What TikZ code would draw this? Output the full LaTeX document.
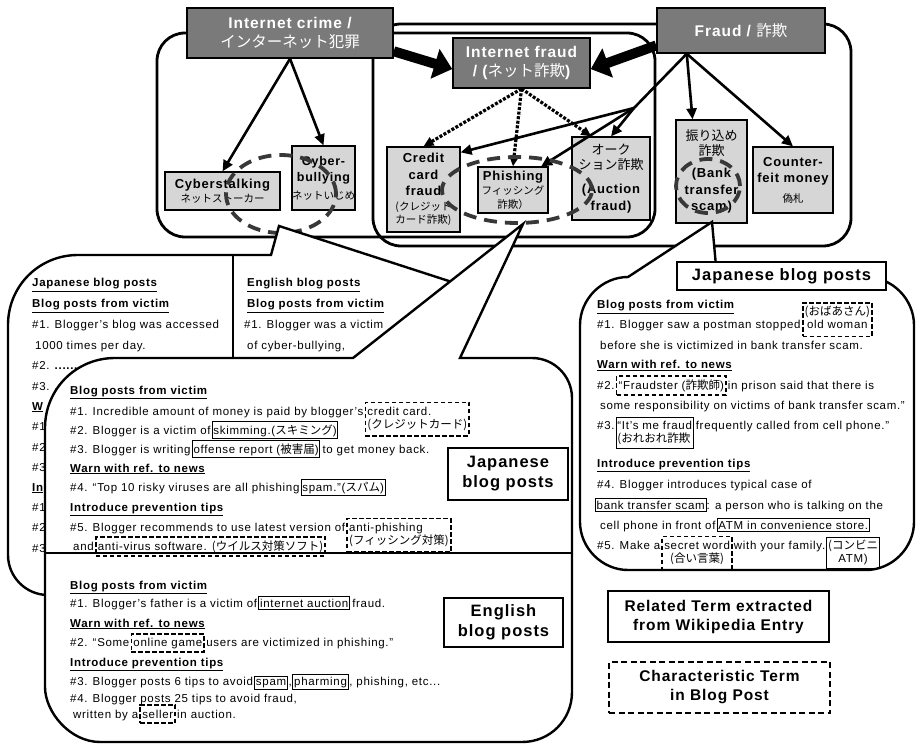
\documentclass[tikz,border=0pt]{standalone}
\usepackage{fontspec}
\setmainfont{Liberation Sans}[LetterSpace=6]
\newfontfamily\jpfont{Noto Sans CJK JP}
\newcommand{\jp}[1]{{\mdseries\jpfont #1}}
\newcommand{\jsm}[1]{{\mdseries\jpfont\fontsize{10.5}{12}\selectfont #1}}
\newcommand{\hd}[1]{\textbf{\underline{#1}}}
\newcommand{\twol}[2]{\begin{tabular}[t]{@{}l@{}}#1\\#2\end{tabular}}
\newcommand{\twoc}[2]{\begin{tabular}[t]{@{}c@{}}#1\\#2\end{tabular}}
\newcommand{\twob}[2]{\begin{tabular}[b]{@{}c@{}}#1\\#2\end{tabular}}
\usetikzlibrary{arrows.meta}
\usetikzlibrary{positioning}
\usetikzlibrary{shapes.geometric,calc}

\tikzset{
  topic/.style={draw, line width=1.5pt, fill=black!52, text=white, align=center, inner sep=0pt, font=\bfseries\fontsize{15.5}{19}\selectfont},
  term/.style={draw, line width=1.2pt, fill=black!16, align=center, inner sep=0pt, font=\bfseries\fontsize{13}{16.5}\selectfont},
  region/.style={line width=2.8pt, rounded corners=28pt},
  callout/.style={draw, line width=2.4pt, fill=white},
  isa/.style={-{Triangle[length=11pt,width=10pt]}, line width=2.6pt},
  fat/.style={-{Triangle[length=18pt,width=30pt]}, line width=10pt},
  sub/.style={-{Triangle[length=10pt,width=9pt]}, line width=3.2pt, dash pattern=on 3pt off 1.6pt},
  ring/.style={ellipse, draw=black!78, line width=3.8pt, dash pattern=on 13pt off 8pt, inner sep=0pt},
  txt/.style={anchor=base west, inner sep=0pt, font=\fontsize{11.5}{13}\selectfont},
  wiki/.style={draw, line width=1pt, inner xsep=1.2pt, inner ysep=2.5pt, font=\fontsize{11.5}{13}\selectfont},
  blog/.style={draw, line width=1.7pt, dash pattern=on 4.5pt off 2.5pt, inner xsep=2pt, inner ysep=3.5pt, font=\fontsize{11.5}{13}\selectfont},
  tag/.style={draw, line width=2.2pt, align=center, inner sep=0pt, font=\bfseries\fontsize{16.5}{20}\selectfont},
  legend/.style={draw, line width=1.6pt, minimum width=221pt, minimum height=51pt, align=center, font=\bfseries\fontsize{15.5}{19}\selectfont},
}

\begin{document}
\begin{tikzpicture}[x=1pt, y=-1pt]
\useasboundingbox (0,0) rectangle (916,751);
% crime and fraud areas
\draw[region] (157,33) rectangle (655,237);
\draw[region] (373,24) rectangle (851,246);

\node[topic, minimum width=206pt, minimum height=50pt] (crime) at (290,33) {Internet crime /\\\jp{インターネット犯罪}};
\node[topic, minimum width=137pt, minimum height=50pt] (ifraud) at (521.5,63) {Internet fraud\\/ (\jp{ネット詐欺})};
\node[topic, minimum width=168pt, minimum height=45pt] (fraud) at (741,30.5) {Fraud / \jp{詐欺}};

\node[term, minimum width=115pt, minimum height=38pt] (cstalk) at (222.5,191) {Cyberstalking\\[-2pt]\jsm{ネットストーカー}};
\node[term, minimum width=61pt, minimum height=64pt, font=\bfseries\fontsize{12.5}{16}\selectfont] (cbully) at (323.5,178) {Cyber-\\bullying\\[2pt]\jsm{ネットいじめ}};
\node[term, minimum width=73pt, minimum height=85pt] (credit) at (423.5,189.5) {Credit\\card\\fraud\\[-2pt]\jsm{(クレジット}\\[-3pt]\jsm{カード詐欺)}};
\node[term, minimum width=70pt, minimum height=46pt] (phish) at (513,190) {Phishing\\[-2pt]\jsm{フィッシング}\\[-3pt]\jsm{詐欺）}};
\node[term, minimum width=78pt, minimum height=83pt] (auction) at (611,178.5) {\jp{オーク}\\[-2pt]\jp{ション詐欺}\\[8pt](Auction\\fraud)};
\node[term, minimum width=71pt, minimum height=103pt] (bank) at (711.5,171.5) {\jp{振り込め}\\[-2pt]\jp{詐欺}\\[6pt](Bank\\transfer\\scam)};
\node[term, minimum width=80pt, minimum height=66pt] (counter) at (793,180) {Counter-\\feit money\\[3pt]\jsm{偽札}};

\coordinate (froot) at ($(fraud.south west)!0.18!(fraud.south east)$);
\coordinate (fsplit) at (634,108);
\draw[isa] (crime.south) -- (cstalk.north);
\draw[isa] (crime.south) -- (cbully.north);
\draw[fat] (crime.-10) -- (ifraud.-175);
\draw[fat] (fraud.-170) -- (ifraud.-5);
\draw[sub] (ifraud.south) -- (credit.north);
\draw[sub] (ifraud.south) -- (phish.north);
\draw[sub] (ifraud.south) -- (auction.115);
\draw[line width=2.6pt] (froot) -- (fsplit);
\draw[isa] (fsplit) -- (credit.45);
\draw[isa] (fsplit) -- (phish.40);
\draw[isa] (fsplit) -- (auction.north);
\draw[isa] (froot) -- (bank.110);
\draw[isa] (froot) -- (counter.north);

\node[ring, minimum width=110pt, minimum height=78pt] (cyring) at (281,194) {};
\node[ring, minimum width=150pt, minimum height=66pt] (phring) at (517,190) {};
\node[ring, minimum width=64pt, minimum height=54pt] (bkring) at (708,186) {};

% cyber posts
\draw[callout] (8,325) .. controls (8,286) and (39,255) .. (78,255) -- (271,255) -- (279,226) -- (455,283) -- (455,555) .. controls (455,577) and (437,595) .. (415,595) -- (48,595) .. controls (26,595) and (8,577) .. (8,555) -- cycle;
\draw[line width=2.4pt] (233,255) -- (233,358);
\node[txt] (lj0) at (32,287) {\hd{Japanese blog posts}};
\node[txt] (lj1) at (32,308) {\hd{Blog posts from victim}};
\node[txt] (lj2) at (32,329) {\#1. Blogger's blog was accessed};
\node[txt] (lj3) at (35,350) {1000 times per day.};
\node[txt] (lj4) at (32,370) {\#2. \textbf{......}};
\node[txt] (lj5) at (32,390) {\#3. \textbf{..}};
\node[txt] (lj6) at (32,410) {\hd{W}};
\node[txt] (lj7) at (32,430) {\#1};
\node[txt] (lj8) at (32,451) {\#2};
\node[txt] (lj9) at (32,471) {\#3};
\node[txt] (lj10) at (32,491) {\hd{In}};
\node[txt] (lj11) at (32,511) {\#1};
\node[txt] (lj12) at (32,531) {\#2};
\node[txt] (lj13) at (32,552) {\#3};
\node[txt] (le0) at (247,287) {\hd{English blog posts}};
\node[txt] (le1) at (247,308) {\hd{Blog posts from victim}};
\node[txt] (le2) at (244,329) {\#1. Blogger was a victim};
\node[txt] (le3) at (247,350) {of cyber-bullying,};

% phishing / auction posts
\draw[callout] (115,358) -- (353,358) -- (523,224) -- (460,358) -- (532,358) .. controls (554,358) and (572,376) .. (572,398) -- (572,692) .. controls (572,720) and (550,742) .. (522,742) -- (100,742) .. controls (70,742) and (45,712) .. (45,687) -- (45,428) .. controls (45,389) and (76,358) .. (115,358) -- cycle;
\draw[line width=2.4pt] (45,553) -- (572,553);
\node[txt] (m0) at (70,394) {\hd{Blog posts from victim}};
\node[txt] (m1) at (70,415) {\#1. Incredible amount of money is paid by blogger's};
\node[blog, base right=1pt of m1] (m1t) {\twol{credit card.}{\jp{(クレジットカード)}}};
\node[txt] (m2) at (70,434) {\#2. Blogger is a victim of};
\node[wiki, base right=1pt of m2] (m2t) {skimming.(\jp{スキミング})};
\node[txt] (m3) at (70,453) {\#3. Blogger is writing};
\node[wiki, base right=1pt of m3] (m3t) {offense report (\jp{被害届})};
\node[txt, base right=2pt of m3t] (m3e) {to get money back.};
\node[txt] (m4) at (70,472) {\hd{Warn with ref. to news}};
\node[txt] (m5) at (70,491) {\#4. ``Top 10 risky viruses are all phishing};
\node[wiki, base right=1pt of m5] (m5t) {spam.''(\jp{スパム})};
\node[txt] (m6) at (70,511) {\hd{Introduce prevention tips}};
\node[txt] (m7) at (70,531) {\#5. Blogger recommends to use latest version of};
\node[blog, base right=1pt of m7] (m7t) {\twol{anti-phishing}{\jp{(フィッシング対策)}}};
\node[txt] (m8) at (73,550) {and};
\node[blog, base right=1pt of m8] (m8t) {anti-virus software. \jp{(ウイルス対策ソフト)}};
\node[tag, minimum width=120pt, minimum height=52pt] (jpmidtag) at (508,474) {Japanese\\blog posts};

\node[txt] (b0) at (70,589) {\hd{Blog posts from victim}};
\node[txt] (b1) at (70,607) {\#1. Blogger's father is a victim of};
\node[wiki, base right=1pt of b1] (b1t) {internet auction};
\node[txt, base right=2pt of b1t] (b1e) {fraud.};
\node[txt] (b2) at (70,627) {\hd{Warn with ref. to news}};
\node[txt] (b3) at (70,646) {\#2. ``Some};
\node[blog, base right=1pt of b3] (b3t) {online game};
\node[txt, base right=1pt of b3t] (b3e) {users are victimized in phishing.''};
\node[txt] (b4) at (70,666) {\hd{Introduce prevention tips}};
\node[txt] (b5) at (70,685) {\#3. Blogger posts 6 tips to avoid};
\node[wiki, base right=1pt of b5] (b5t) {spam};
\node[txt, base right=0.5pt of b5t] (b5c) {,};
\node[wiki, base right=0.5pt of b5c] (b5u) {pharming};
\node[txt, base right=0.5pt of b5u] (b5e) {, phishing, etc...};
\node[txt] (b6) at (70,702) {\#4. Blogger posts 25 tips to avoid fraud,};
\node[txt] (b7) at (73,718) {written by a};
\node[blog, base right=1pt of b7, inner ysep=5pt] (b7t) {seller};
\node[txt, base right=1pt of b7t] (b7e) {in auction.};
\node[tag, minimum width=119pt, minimum height=49pt] (enbottag) at (503.5,622.5) {English\\blog posts};

% bank transfer posts
\draw[callout] (628,277) -- (712,222) -- (717,277) -- (866,277) .. controls (892,277) and (914,299) .. (914,325) -- (914,522) .. controls (914,548) and (892,570) .. (866,570) -- (628,570) .. controls (602,570) and (580,548) .. (580,522) -- (580,325) .. controls (580,299) and (602,277) .. (628,277) -- cycle;
\node[tag, minimum width=209pt, minimum height=28pt, fill=white] (jprighttag) at (781.5,276) {Japanese blog posts};
\node[txt] (r0) at (597,309) {\hd{Blog posts from victim}};
\node[txt] (r1) at (597,329) {\#1. Blogger saw a postman stopped};
\node[blog, base right=1pt of r1] (r1t) {\twob{\jp{(おばあさん)}}{old woman}};
\node[txt] (r2) at (600,349) {before she is victimized in bank transfer scam.};
\node[txt] (r3) at (597,369) {\hd{Warn with ref. to news}};
\node[txt] (r4) at (597,389) {\#2.};
\node[blog, base right=1pt of r4] (r4t) {``Fraudster (\jp{詐欺師})};
\node[txt, base right=1pt of r4t] (r4e) {in prison said that there is};
\node[txt] (r5) at (600,409) {some responsibility on victims of bank transfer scam.''};
\node[txt] (r6) at (597,429) {\#3.};
\node[wiki, base right=1pt of r6] (r6t) {\twol{``It's me fraud}{\jp{(おれおれ詐欺}}};
\node[txt, base right=2pt of r6t] (r6e) {frequently called from cell phone.''};
\node[txt] (r7) at (597,467) {\hd{Introduce prevention tips}};
\node[txt] (r8) at (597,488) {\#4. Blogger introduces typical case of};
\node[wiki, anchor=base west] (r9t) at (595,509) {bank transfer scam};
\node[txt, base right=0pt of r9t] (r9e) {: a person who is talking on the};
\node[txt] (r10) at (600,529) {cell phone in front of};
\node[wiki, base right=1pt of r10] (r10t) {ATM in convenience store.};
\node[txt] (r11) at (597,549) {\#5. Make a};
\node[blog, base right=1pt of r11] (r11t) {\twoc{secret word}{\jp{(合い言葉)}}};
\node[txt, base right=1pt of r11t] (r11e) {with your family.};
\node[wiki, base right=1pt of r11e] (r11u) {\twoc{\jp{(コンビニ}}{ATM)}};

% legend
\node[legend] (legwiki) at (718.5,616.5) {Related Term extracted\\from Wikipedia Entry};
\node[legend, dash pattern=on 6pt off 3.5pt, line width=2pt] (legblog) at (719.5,687.5) {Characteristic Term\\in Blog Post};
\end{tikzpicture}
\end{document}
